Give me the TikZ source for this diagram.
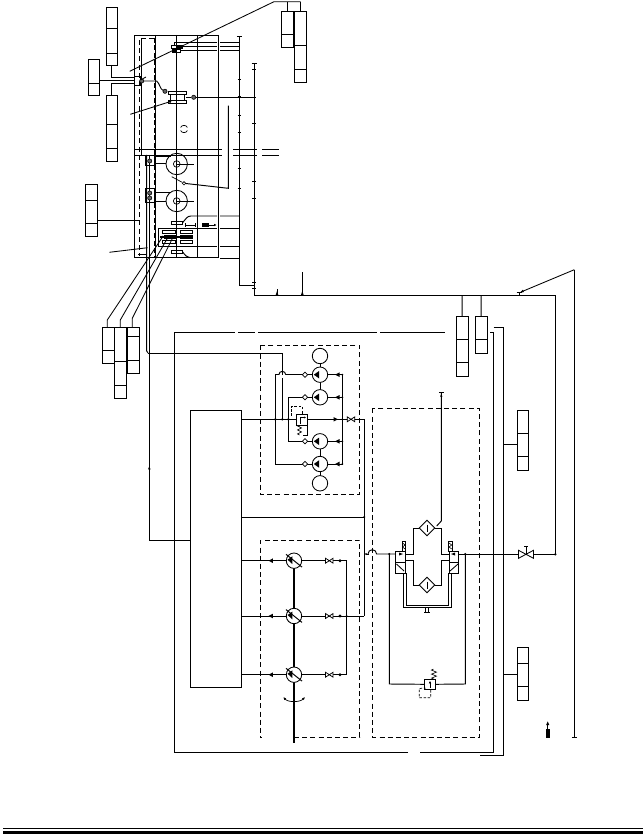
\documentclass[tikz,border=0pt]{standalone}
\usetikzlibrary{arrows.meta,calc}
\tikzset{
 x=1pt,y=-1pt,
 pipe/.style={line width=0.95pt,black},
 thin pipe/.style={line width=0.7pt,black},
 heavy/.style={line width=1.5pt,black},
 shaft/.style={line width=2.1pt,black},
 dashbox/.style={line width=0.85pt,dash pattern=on 5pt off 3.2pt,black},
 thickdash/.style={line width=1.3pt,dash pattern=on 5pt off 2.5pt,black},
 pilot/.style={line width=0.7pt,dash pattern=on 2.5pt off 1.6pt,black},
 lead/.style={line width=0.85pt,black},
 darkdot/.style={circle,fill=black,inner sep=0pt,minimum size=2.6pt},
 gauge/.style={circle,draw=black,fill=black!60,line width=0.6pt,inner sep=0pt,minimum size=4.2pt},
 blk/.style={draw=black,line width=0.9pt,inner sep=0pt,outer sep=0pt,fill=none},
 unit/.style={circle,draw=black,line width=0.85pt,inner sep=0pt,minimum size=15.4pt,fill=white},
 ticktip/.style={-{Latex[length=2.6pt,width=2.4pt]}},
}
% \blkbox{name}{x0}{y0}{x1}{y1}{list of divider ys}
\newcommand{\blkbox}[6]{%
 \node[blk,minimum width=#4pt-#2pt,minimum height=#5pt-#3pt] (#1) at ({(#2+#4)/2},{(#3+#5)/2}) {};
 \foreach \dv in {#6}{\draw[pipe] (#2,\dv) -- (#4,\dv);}
}
\newcommand{\vflow}[3]{\fill[black] ({#1-#3*2.2},#2-2.3) -- ({#1+#3*2.2},#2) -- ({#1-#3*2.2},#2+2.3) -- cycle;}
\newcommand{\vbow}[2]{\draw[line width=0.75pt,fill=white] ({#1-3.7},#2-2.4) -- ({#1+3.7},#2+2.4) -- ({#1+3.7},#2-2.4) -- ({#1-3.7},#2+2.4) -- cycle;}
\newcommand{\vchk}[2]{\draw[line width=0.75pt,fill=white] ({#1-2.6},#2) -- (#1,#2-2.6) -- ({#1+2.6},#2) -- (#1,#2+2.6) -- cycle;}
\newcommand{\fixedpump}[3]{\node[unit] (#1) at (#2,#3) {};\fill[black] ({#2-6.2},#3) -- ({#2-0.8},#3-3.8) -- ({#2-0.8},#3+3.8) -- cycle;}
\newcommand{\varpump}[3]{\node[unit] (#1) at (#2,#3) {};\fill[black] ({#2-6.4},#3-1) -- ({#2-1.6},#3-4.4) -- ({#2-1.6},#3+3.4) -- cycle;\draw[line width=0.95pt] ({#2-8},#3-6.4) -- ({#2+8},#3+6.4);}
\newcommand{\vtickh}[2]{\draw[thin pipe] ({#1-1.7},#2) -- ({#1+1.7},#2);}
\newcommand{\vticke}[2]{\draw[thin pipe] ({#1-2.5},#2) -- ({#1+2.5},#2);}
\newcommand{\vfilt}[3]{\draw[line width=0.9pt,fill=white] ({#2-7.7},#3) -- (#2,#3-7.7) -- ({#2+7.7},#3) -- (#2,#3+7.7) -- cycle; \draw[line width=0.7pt] (#2,#3-3.5) -- (#2,#3+3.5); \coordinate (#1w) at ({#2-7.7},#3); \coordinate (#1e) at ({#2+7.7},#3);}
\newcommand{\vbar}[4]{\draw[line width=0.85pt] (#1,#3) rectangle (#2,#4);}
\newcommand{\vzig}[3]{\draw[line width=0.65pt] (#1,#2) -- ++(-2,-1.1) -- ++(4,-2) -- ++(-4,-2) -- ++(4,-2) -- ++(-4,-2) -- (#1,#3);}
\begin{document}
\begin{tikzpicture}
\useasboundingbox (0,0) rectangle (643,834);
\fill[white] (0,0) rectangle (643,834);

%%% === upper cabinet ===
\draw[line width=.95pt] (218.3,35) -- (134.3,35) -- (134.3,257.7) -- (218.3,257.7);
\draw[pipe] (155,35) -- (155,257.7);
\draw[pipe] (176.7,35) -- (176.7,257.7);
\draw[pipe] (197.3,35) -- (197.3,257.7);
\draw[pipe] (218.3,35) -- (218.3,257.7);
\draw[thickdash] (154.8,38) -- (154.8,257);
\draw[dashbox] (154,38.3) -- (139.3,38.3) -- (139.3,256);
\draw[pipe] (141.3,38.5) -- (141.3,155);
\draw[thin pipe] (138,254) -- (146,254);
\draw[pipe] (146.7,155) -- (146.7,351) -- (148,353);
\draw[pipe] (149.3,155) -- (149.3,540) -- (190,540);
\draw[pipe] (148,353) -- (282.3,353);
% crossing break lines
\draw[pipe] (134.3,149.3) -- (222,149.3) (233,149.3) -- (257,149.3) (262,149.3) -- (279,149.3);
\draw[pipe] (134.3,155.3) -- (222,155.3) (233,155.3) -- (257,155.3) (262,155.3) -- (279,155.3);
% right risers
\coordinate (riserA) at (239.3,36.7);
\coordinate (riserB) at (254,63.3);
\draw[pipe] (riserA) -- (239.3,285.7) -- (254,285.7);
\draw[pipe] (riserB) -- (254,295.3) -- (555.3,295.3) -- (555.3,554.3);
\vticke{239.3}{36.7} \vticke{254}{63.3}
\foreach \yy in {79.3,96.8,115,132.7,168,188.3}{\vtickh{239.3}{\yy}}
\foreach \yy in {69.3,97.3,123.3,181,198.5,282.3,288.3}{\vtickh{254}{\yy}}
\fill (277,291) -- (275.7,295) -- (278.3,295) -- cycle;
\fill (302.3,291) -- (301,295) -- (303.6,295) -- cycle;
\draw[pipe] (277,289) -- (277,295.3);
\draw[pipe] (302.3,272.3) -- (302.3,295.3);
\draw[pipe] (519.3,295.3) -- (519.3,292.7);
\draw[thin pipe] (516.5,292.6) -- (522,292.6);

%%% Left blocks
\blkbox{A}{106.3}{7.3}{117.3}{65}{28.3,53.3}
\blkbox{B}{88.3}{59.3}{99.7}{95.7}{83.3}
\blkbox{C}{106.3}{95.7}{117.3}{161}{124.3,148.3}
\blkbox{F}{85.3}{184.3}{97.3}{236.3}{200,223.3}
\node[blk,minimum width=6.7pt,minimum height=9pt] (Jb) at (137.4,80.5) {};
\draw[pipe] (A.south) -- (111.8,77.7) -- (134,77.7);
\draw[pipe] (99.7,80.3) -- (134,80.3);
\draw[pipe] (C.north) -- (111.8,83) -- (134,83);
\draw[pipe] (97.3,220.7) -- (139.3,220.7);
\draw[lead] (109.3,252.3) -- (147.7,247.7);

%%% Gauge / top valve
\node[gauge] (g1) at (141.7,81) {};
\node[gauge] (g2) at (165,91.3) {};
\node[gauge] (g3) at (193.7,97.3) {};
\draw[pipe] (g1) -- (156.7,81) .. controls (160,84) and (160,89) .. (g2);
\draw[lead] (140.5,80) -- (146,77);
% valve V2
\vbar{168.3}{186}{91.3}{94.7}
\vbar{168.3}{186}{100.3}{103.7}
\draw[line width=.9pt] (170.5,94.7) -- (170.5,100.3);
\draw[line width=.9pt] (184,94.7) -- (184,100.3);
\draw[line width=1.3pt] (186,97.3) -- (g3);
\draw[pipe] (g3) -- (254,97.3);
\draw[lead] (130.3,114.3) -- (170,101.7);
\fill (170,101.7) circle (1.3pt);
% valve V1
\vbar{171.7}{182.7}{45}{48.3}
\fill (176.7,45) rectangle (182.7,48.3);
\vbar{172.3}{180.3}{49.3}{52.7}
\draw[line width=.9pt,fill=black] (172.8,49.5) rectangle (176,52.5);
\draw[pipe] (174.3,45) -- (174.3,42.3) -- (217,42.3) (220,42.3) -- (239.3,42.3);
\draw[pipe] (180,46.7) -- (217,46.7) (220,46.7) -- (239.3,46.7);
\draw[pipe] (180,50.7) -- (217,50.7) (220,50.7) -- (239.3,50.7);
\draw[lead] (129.7,71.3) -- (274,1.7) -- (300.7,1.7);
\blkbox{D}{281.3}{11.3}{293.3}{47.3}{34.3}
\blkbox{E}{294}{11.3}{306.3}{82.3}{45.3,69.3}
\draw[pipe] (287.3,1.7) -- (287.3,11.3);
\draw[pipe] (300.7,1.7) -- (300.7,11.3);
% small reversing mark
\draw[line width=.7pt] (180.6,127.5) .. controls (181.5,124.7) and (186.5,124.7) .. (187.4,127.5);
\draw[line width=.7pt] (180.6,130.5) .. controls (181.5,133.3) and (186.5,133.3) .. (187.4,130.5);

%%% Motors in cabinet
\foreach \nm/\yy in {m1/164,m2/201}{
 \draw[line width=.85pt] (176.7,\yy) circle (10.7);
 \draw[line width=.7pt] (176.7,\yy) circle (3.3);
 \draw[thin pipe] (176.7,\yy) -- (194,\yy);
}
\node[blk,minimum width=8.7pt,minimum height=10pt] (v1) at (149.65,160.7) {};
\node[blk,minimum width=8.7pt,minimum height=14pt] (v2) at (149.65,195.3) {};
\node[gauge] at (149.7,161) {};
\node[gauge] at (149.7,193) {};
\node[gauge] at (149.7,198) {};
\draw[thin pipe] (154,156) -- (171,156);
\draw[thin pipe] (154,163.3) -- (166,163.3);
\draw[thin pipe] (154,192.7) -- (170,192.7);
\draw[thin pipe] (154,201) -- (166,201);
\draw[pipe] (228.3,105.7) -- (228.3,188.3) -- (184,183.3);
\node[gauge,minimum size=3.4pt,fill=white] (g4) at (184,183.3) {};
\draw[thin pipe] (g4) -- (171.7,176.7);

%%% lower cabinet valves
\vbar{171.7}{182.7}{221.3}{224.7}
\vbar{171.7}{182.7}{250}{253.3}
\draw[pipe] (182.7,222.5) .. controls (186,219) and (187,216) .. (191,216) -- (217,216) (220,216) -- (239.3,216);
\draw[pipe] (182.7,252) .. controls (185,255) and (187,257.7) .. (190,257.7);
\draw[heavy] (190,257.7) -- (217,257.7);
\draw[pipe] (220,258.3) -- (239.3,258.3);
\draw[pipe] (158.3,228) -- (217,228) (220,228) -- (239.3,228);
\draw[pipe] (158.3,246.3) -- (217,246.3) (220,246.3) -- (239.3,246.3);
\draw[pipe] (158.3,228) -- (158.3,246.3);
\vbar{162.7}{175}{230.7}{233.3}
\vbar{162.7}{175}{240.7}{243.3}
\vbar{180}{192.7}{230.7}{233.3}
\vbar{180}{192.7}{240.7}{243.3}
\draw[heavy] (160,237) -- (193,237);
\draw[line width=.9pt] (164,235.3) rectangle (175,238.7);
\draw[line width=.9pt] (180,235.3) rectangle (192,238.7);
% little symbol
\draw[thin pipe] (185,225) -- (195.3,225) (185,223.5) -- (185,226.5) (195.3,223.5) -- (195.3,226.5);
\fill (201.7,222.8) rectangle (209.3,227);
\draw[line width=.9pt,ticktip] (209,225) -- (216.7,225);

%%% === leaders to lower-left blocks ===
\blkbox{H}{102.3}{327.3}{114}{363.3}{350.3}
\blkbox{I}{114.3}{327.3}{126.7}{398.3}{361.3,385.3}
\blkbox{J}{127.3}{327.3}{139}{373.7}{336.3,360.3}
\draw[lead] (162.7,236.7) -- (107.3,320) -- (107.3,327.3);
\draw[lead] (168.3,236.7) -- (120.3,320) -- (120.3,327.3);
\draw[lead] (173.3,236.7) -- (132.3,318.3) -- (132.3,327.3);
\fill (162.7,236.7) circle (1pt) (168.3,236.7) circle (1pt) (173.3,236.7) circle (1pt);

%%% === right outer pipes ===
\draw[lead] (574.3,269.7) -- (574.3,737.3);
\draw[lead,-{Latex[length=4.5pt,width=2.8pt]}] (574.3,269.7) -- (519.3,292.7);
\vticke{574.3}{737.3}
\blkbox{K}{456.3}{316}{468}{376.3}{339.3,362.3}
\blkbox{L}{475.3}{316}{487}{353}{339.3}
\draw[pipe] (K.north) -- (462.2,295.3);
\draw[pipe] (L.north) -- (481.2,295.3);
\draw[pipe] (490,332.3) -- (493.5,332.3) -- (493.5,752.3) -- (420,752.3) (408,752.3) -- (174.7,752.3) -- (174.7,332.3) -- (235,332.3) (238,332.3) -- (255,332.3) (258,332.3) -- (377,332.3) (380,332.3) -- (445,332.3);
\draw[pipe] (493.7,327.3) -- (503.3,327.3) -- (503.3,755.3) -- (480,755.3);
\blkbox{M}{517.3}{410}{528.3}{470.3}{433.3,456.7}
\blkbox{N}{517.3}{647.3}{528.7}{700.7}{663.3,686.3}
\draw[pipe] (503.3,444) -- (517.3,444);
\draw[pipe] (503.3,674) -- (517.3,674);
% bottom arrow
\draw[line width=1pt,-{Latex[length=4pt,width=3.4pt]}] (547.7,730) -- (547.7,721);
\draw[line width=3.6pt] (547.7,729) -- (547.7,738.3);

%%% === central box ===
\node[blk,minimum width=51pt,minimum height=277pt] (ctrl) at (215.5,548.5) {};

%%% === upper pump group ===
\draw[dashbox] (260.3,345.3) rectangle (359.7,494.3);
\draw[pipe] (241,419.3) -- (296.3,419.3);
\draw[pipe] (307.3,419.3) -- (364.3,419.3) -- (364.3,616);
\draw[pipe] (320,356) -- (320,397.3);
\draw[pipe] (320,441.3) -- (320,483.3);
\node[unit] (t1) at (320,356) {};
\node[unit] (t2) at (320,483.3) {};
\fixedpump{p1}{320}{374.7}
\fixedpump{p2}{320}{397.3}
\fixedpump{p3}{320}{441.3}
\fixedpump{p4}{320}{464}
\draw[pipe] (p1.east) -- (342.3,374.7) -- (342.3,464) -- (p4.east);
\draw[pipe] (p2.east) -- (342.3,397.3);
\draw[pipe] (p3.east) -- (342.3,441.3);
\vflow{337.3}{374.7}{-1}\vflow{337.3}{397.3}{-1}\vflow{337.3}{441.3}{-1}\vflow{337.3}{464}{-1}
\vflow{335.7}{419.3}{1}
\draw[pipe] (p1.west) -- (285.7,374.7);
\draw[pipe] (278.9,374.7) -- (275.3,374.7) -- (275.3,464) -- (p4.west);
\draw[pipe] (p2.west) -- (288.3,397.3) -- (288.3,441.3) -- (p3.west);
\draw[pipe] (278.9,374.7) arc (180:360:3.4);
\draw[pipe] (282.3,353) -- (282.3,371.3) (282.3,378) -- (282.3,419.3);
\draw[pipe] (282.3,371.3) -- (282.3,375);
\vchk{305}{374.7}\vchk{305}{397.3}\vchk{305}{441.3}\vchk{305}{464}
\node[darkdot] at (275.3,419.3) {};
\node[darkdot] at (282.3,419.3) {};
\node[darkdot] at (288.3,419.3) {};
\foreach \yy in {374.7,397.3,419.3,441.3,464}{\node[darkdot,minimum size=2pt] at (342.3,\yy) {};}
\vbow{351}{419.3}
% relief valve
\node[blk,minimum width=11pt,minimum height=11pt,fill=white] (rv) at (301.8,419.5) {};
\draw[line width=.7pt,-{Latex[length=2pt,width=2pt]}] (300,424) -- (300,417.5) -- (306,417.5);
\vzig{299.5}{435}{426}
\draw[pipe] (rv.south east) -- (307.3,435) -- (303,435);
\draw[pilot] (302,413.5) -- (302,406.3) -- (291.7,406.3) -- (291.7,416.7);

%%% === lower pump group ===
\draw[dashbox] (294,737) -- (359.7,737) -- (359.7,540.3) -- (260.3,540.3) -- (260.3,737) -- (262,737);
\draw[shaft] (294,560.7) -- (294,743.3);
\varpump{q1}{294}{560.7}
\varpump{q2}{294}{616}
\varpump{q3}{294}{674.7}
\foreach \nm/\yy in {q1/560.7,q2/616,q3/674.7}{
 \draw[pipe] (241,\yy) -- (\nm.west);
 \vflow{270.7}{\yy}{-1}
 \draw[pipe] (\nm.east) -- (346.7,\yy);
 \vbow{329.3}{\yy}
 \fill (340,\yy) circle (1.6pt);
}
\draw[pipe] (346.7,560.7) -- (346.7,675);
\draw[pipe] (346.7,616) -- (364.3,616);
\node[darkdot,minimum size=2pt] at (346.7,616) {};
\draw[line width=.7pt,{Latex[length=3pt,width=2.6pt]}-{Latex[length=3pt,width=2.6pt]}] (283.3,697) .. controls (288,702.5) and (300,702.5) .. (305,697);

%%% supply line into filter box
\draw[pipe] (241,517) -- (364.3,517);
\node[darkdot,minimum size=2.2pt] at (364.3,517) {};
\draw[dashbox] (372.3,408.3) rectangle (479.3,737.3);
\draw[pipe] (368,554) arc (180:360:4.3) -- (395.7,554);
\draw[line width=.7pt,-{Latex[length=2.4pt,width=2.2pt]}] (369,554) -- (364.3,554);
\node[darkdot,minimum size=2.2pt] at (389.3,554) {};
\node[darkdot,minimum size=2.2pt] at (465.3,554) {};

%%% filters
\vfilt{f1}{427}{528}
\vfilt{f2}{427}{585}
\draw[pipe] (441.3,392) -- (441.3,521) -- (436.7,526);
\draw[line width=.7pt,-{Latex[length=2.5pt,width=2.4pt]}] (441.3,400) -- (441.3,394);
\vticke{441.3}{392}
\draw[pipe] (f1w) -- (413.3,528) -- (413.3,554) -- (405,554);
\draw[pipe] (f1e) -- (441.3,528) -- (441.3,554) -- (449,554);
\draw[pipe] (f2w) -- (413.3,585) -- (413.3,560) -- (405,560);
\draw[pipe] (f2e) -- (441.3,585) -- (441.3,560) -- (449,560);
% selector valves
\foreach \xa/\xb in {395.7/405,449/458.7}{
 \draw[line width=.85pt] (\xa,551.3) rectangle (\xb,573.3);
 \draw[line width=.85pt] (\xa,562.3) -- (\xb,562.3);
}
\draw[line width=.85pt] (396.5,564) -- (404,571);
\draw[line width=.85pt] (458,564) -- (450,571);
\fill (403,554) -- (399,552.5) -- (399,555.5) -- cycle;
\fill (451,554) -- (455,552.5) -- (455,555.5) -- cycle;
\draw[line width=.6pt] (402,541) rectangle (405.7,551.3);
\draw[line width=.6pt] (402.5,543) -- (405,545) -- (402.5,547) -- (405,549);
\draw[line width=.6pt] (448.5,541) rectangle (452.3,551.3);
\draw[line width=.6pt] (449,543) -- (451.7,545) -- (449,547) -- (451.7,549);
% double return
\draw[thin pipe] (403.8,573.3) -- (403.8,607.5) -- (450.9,607.5) -- (450.9,573.3);
\draw[thin pipe] (406,573.3) -- (406,605) -- (448.7,605) -- (448.7,573.3);
\draw[thin pipe] (425.7,607.3) -- (425.7,612) (428.3,607.3) -- (428.3,612);
\draw[pipe] (424.3,612.2) -- (429.7,612.2);
% bypass
\node[blk,line width=1.05pt,minimum width=11.4pt,minimum height=10pt,fill=white] (bp) at (430,684.3) {};
\draw[pipe] (389.3,554) -- (389.3,684) -- (bp.west);
\draw[pipe] (bp.east) -- (465.3,684) -- (465.3,554);
\draw[line width=.8pt,-{Latex[length=2.4pt,width=2.4pt]}] (430,688) -- (430,681);
\fill (430,682.5) circle (.9pt);
\draw[line width=.65pt] (434,679.3) -- ++(-2.5,-1.2) -- ++(5,-2) -- ++(-5,-2) -- ++(5,-2) -- ++(-5,-2) -- ++(2,-1);
\draw[pilot] (425,689.3) -- (425,688) -- (419.3,688.5) -- (419.3,697.7) -- (430.7,697.7) -- (430.7,690);

%%% right main line with valve
\draw[pipe] (458.7,554.3) -- (555.3,554.3);
\draw[line width=.85pt,fill=white] (518.5,550.3) -- (533.5,558.3) -- (533.5,550.3) -- (518.5,558.3) -- cycle;
\draw[thin pipe] (526,554.3) -- (526,546) (524,546) -- (528,546);
\node[darkdot,minimum size=2.6pt] at (555.3,554.3) {};

%%% arrow on long return
\draw[line width=.7pt,-{Latex[length=3.4pt,width=2.8pt]}] (149.3,473) -- (149.3,466);

%%% bottom rule
\draw[line width=.9pt] (3,828.5) -- (643,828.5);
\fill[black] (3,830.8) rectangle (643,834);
\end{tikzpicture}
\end{document}
